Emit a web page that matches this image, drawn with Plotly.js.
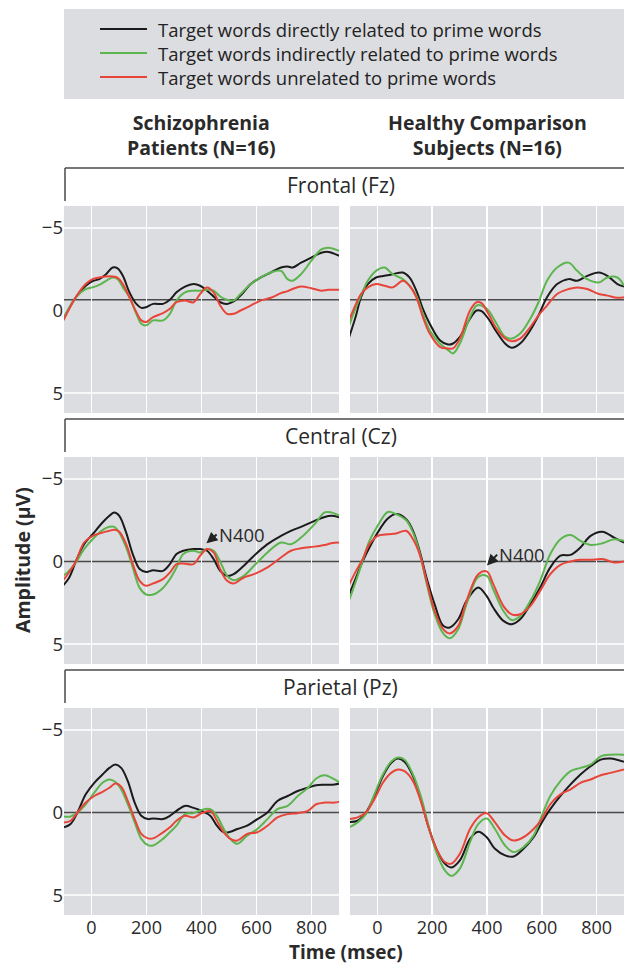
<!DOCTYPE html>
<html><head><meta charset="utf-8">
<script src="https://cdn.plot.ly/plotly-3.0.1.min.js"></script>
<style>html,body{margin:0;padding:0;background:#fff}#chart{width:624px;height:964px}</style>
</head><body><div id="chart"></div>
<script>
// ---------- data (msec, microvolts) ----------
const seriesNames = ["Target words directly related to prime words","Target words indirectly related to prime words","Target words unrelated to prime words"];
const xTicks = [0,200,400,600,800];
const yTicks = [-5,0,5];
const rowTitles = ["Frontal (Fz)","Central (Cz)","Parietal (Pz)"];
const colTitles = ["<b>Schizophrenia<br>Patients (N=16)</b>","<b>Healthy Comparison<br>Subjects (N=16)</b>"];

const tFzL = [-102,-57,-21,4,28,53,77,95,114,138,163,181,199,224,260,285,309,340,371,395,420,444,468,493,517,542,579,615,652,689,713,731,762,799,836,861,903];
const fzL_direct = [0.5,-0.8,-1.5,-1.78,-1.9,-2.2,-2.6,-2.55,-2.1,-1.1,-0.4,-0.16,-0.2,-0.4,-0.4,-0.65,-1.1,-1.45,-1.6,-1.5,-1.2,-0.85,-0.5,-0.4,-0.55,-0.9,-1.6,-2.0,-2.3,-2.6,-2.67,-2.6,-2.9,-3.2,-3.5,-3.55,-3.3];
const fzL_indirect = [0.5,-0.8,-1.3,-1.4,-1.55,-1.8,-2.0,-1.9,-1.4,-0.8,0.2,0.8,0.9,0.6,0.6,0.2,-0.6,-1.1,-1.2,-1.2,-1.25,-1.2,-0.85,-0.65,-0.6,-1.0,-1.6,-2.0,-2.3,-2.4,-1.9,-1.8,-2.2,-3.0,-3.7,-3.8,-3.6];
const fzL_unrel = [0.6,-0.8,-1.6,-1.9,-2.0,-2.06,-2.06,-1.98,-1.6,-0.8,0.1,0.6,0.7,0.4,0.16,-0.1,-0.5,-0.6,-0.5,-1.0,-1.4,-1.1,-0.3,0.2,0.2,0,-0.3,-0.6,-0.77,-1.05,-1.17,-1.3,-1.45,-1.35,-1.2,-1.25,-1.25];

const tFzR = [-103,-78,-60,-35,-5,26,56,93,117,142,166,191,228,258,276,301,338,362,380,405,435,466,490,521,558,588,619,656,698,729,766,808,839,876,900];
const fzR_direct = [1.6,0.3,-0.8,-1.6,-2.0,-2.1,-2.2,-2.3,-2.0,-1.2,-0.1,0.8,1.8,2.06,2.0,1.6,0.5,0,0.04,0.5,1.3,2.0,2.26,2.0,1.2,0.3,-0.8,-1.6,-1.9,-1.8,-2.1,-2.3,-2.1,-1.6,-1.45];
const fzR_indirect = [0.9,-0.2,-0.9,-1.8,-2.4,-2.6,-2.2,-1.9,-1.5,-0.9,0.2,1.2,2.0,2.4,2.6,2.0,0.4,-0.3,-0.3,0,0.8,1.6,1.7,1.4,0.5,-0.5,-1.8,-2.6,-2.9,-2.4,-1.9,-1.7,-2.0,-2.0,-1.5];
const fzR_unrel = [0.57,-0.4,-1.0,-1.4,-1.6,-1.5,-1.4,-1.8,-1.5,-0.8,0.4,1.4,2.2,2.3,2.3,1.7,0,-0.5,-0.45,0.2,1.1,1.7,1.86,1.7,1.0,0.3,-0.3,-1.0,-1.3,-1.4,-1.3,-1.0,-0.9,-0.77,-0.8];

const tCzL = [-106,-82,-57,-27,4,40,65,83,101,126,150,175,199,224,260,285,309,334,371,395,420,444,468,493,517,554,591,640,689,725,762,811,848,872,903];
const czL_direct = [1.5,1.0,0,-1.05,-1.65,-2.36,-2.77,-2.97,-2.77,-1.75,-0.45,0.46,0.63,0.53,0.57,0.16,-0.45,-0.65,-0.75,-0.75,-0.65,-0.15,0.57,0.87,0.77,0.26,-0.35,-1.05,-1.55,-1.86,-2.1,-2.46,-2.7,-2.77,-2.67];
const czL_indirect = [0.9,0.57,0.06,-0.75,-1.35,-1.9,-2.1,-2.1,-1.75,-0.85,0.36,1.6,2.0,2.0,1.6,1.07,0.36,-0.45,-0.65,-0.55,-0.75,-0.65,0,0.87,1.13,0.87,0.26,-0.55,-1.15,-1.05,-1.45,-2.26,-2.97,-2.97,-2.77];
const czL_unrel = [1.2,0.67,0,-1.15,-1.55,-1.75,-1.86,-1.92,-1.8,-1.05,0.16,1.17,1.47,1.33,1.07,0.67,0.16,0.12,0.16,-0.35,-0.75,-0.55,0.47,1.17,1.33,0.97,0.77,0.36,-0.24,-0.65,-0.8,-0.9,-1.0,-1.1,-1.15];

const tCzR = [-103,-78,-54,-29,1,38,68,105,130,154,179,209,240,264,295,325,368,399,423,460,490,521,558,594,631,668,705,741,778,821,864,900];
const czR_direct = [2.0,0.97,0,-0.85,-1.75,-2.6,-2.87,-2.56,-1.86,-0.65,0.97,2.6,3.9,4.0,3.5,2.4,1.58,2.1,2.8,3.6,3.8,3.5,2.6,1.58,0.36,-0.35,-0.4,-0.85,-1.55,-1.8,-1.45,-1.15];
const czR_indirect = [2.35,1.17,-0.04,-1.25,-2.16,-3.0,-2.87,-2.5,-1.75,-0.55,1.27,3.2,4.36,4.65,4.1,2.6,0.93,0.87,1.7,3.0,3.55,3.3,2.4,1.17,-0.45,-1.35,-1.6,-1.25,-1.0,-1.1,-1.35,-1.25];
const czR_unrel = [1.4,0.57,-0.14,-1.05,-1.55,-1.65,-1.7,-1.86,-1.35,-0.45,1.17,3.0,4.1,4.36,3.9,2.4,0.77,0.6,1.37,2.7,3.2,3.2,2.7,1.78,0.77,0.2,0,-0.1,-0.1,-0.15,0.06,0];

const tPzL = [-100,-76,-51,-21,10,40,65,87,108,132,157,181,205,224,260,285,309,340,371,401,432,456,481,505,530,566,603,640,676,713,750,787,817,848,884,903];
const pzL_direct = [0.9,0.7,0,-1.1,-1.8,-2.3,-2.7,-2.9,-2.7,-1.9,-0.6,0.2,0.4,0.36,0.4,0.2,-0.1,-0.4,-0.28,-0.1,0.2,0.8,1.2,1.17,1.0,0.8,0.4,0,-0.7,-1.0,-1.3,-1.5,-1.65,-1.68,-1.7,-1.76];
const pzL_indirect = [0.24,0.24,0,-0.5,-1.2,-1.8,-2.0,-1.85,-1.4,-0.5,0.6,1.6,1.98,2.0,1.6,1.2,0.8,0.1,0.04,-0.16,-0.2,0.2,1.0,1.6,1.9,1.4,1.0,0.4,-0.2,-0.4,-1.0,-1.5,-2.06,-2.26,-2.0,-1.8];
const pzL_unrel = [0.6,0.5,0,-0.6,-1.0,-1.25,-1.5,-1.75,-1.57,-0.7,0.4,1.3,1.57,1.57,1.2,0.9,0.5,0.2,0.3,0.04,-0.1,0.5,1.2,1.6,1.7,1.3,1.2,0.8,0.3,0.1,0.04,-0.1,-0.5,-0.6,-0.6,-0.67];

const tPzR = [-103,-72,-42,-11,20,50,75,99,130,160,185,215,246,270,301,338,368,399,429,466,497,533,570,600,631,668,705,741,778,815,851,900];
const pzR_direct = [0.57,0.5,0,-1.0,-2.2,-3.0,-3.27,-3.07,-2.2,-0.7,0.8,2.2,3.1,3.33,2.9,1.6,1.17,1.5,2.2,2.6,2.67,2.2,1.5,0.6,-0.2,-1.0,-1.7,-2.3,-2.8,-3.2,-3.27,-3.07];
const pzR_indirect = [0.9,0.6,0.1,-1.1,-2.3,-3.07,-3.33,-3.2,-2.3,-0.9,0.7,2.4,3.5,3.84,3.4,1.8,0.7,0.36,1.0,2.0,2.4,2.1,1.4,0.2,-1.0,-1.9,-2.5,-2.7,-2.9,-3.4,-3.5,-3.5];
const pzR_unrel = [0.4,0.3,0,-0.8,-1.8,-2.4,-2.6,-2.5,-1.9,-0.6,0.8,2.2,3.0,3.1,2.5,1.0,0.3,0.04,0.6,1.4,1.7,1.5,1.0,0.4,-0.5,-1.1,-1.4,-1.8,-2.0,-2.26,-2.4,-2.6];

const baselines = [-0.65, 0, 0];          // level of the dark reference line per row
const n400Left = {tip:[418,-1.1], tail:[455,-1.64]};
const n400Right = {tip:[400,0.24], tail:[437,-0.42]};

// ---------- figure ----------
const W = 624, H = 964;
const FONT = "Open Sans, Lato, sans-serif";
const TXT = "#2a2a2a";
const colors = ["#1b1b1b","#5cb54f","#e8453a"];
const panels = [
  [tFzL,[fzL_direct,fzL_indirect,fzL_unrel]],
  [tFzR,[fzR_direct,fzR_indirect,fzR_unrel]],
  [tCzL,[czL_direct,czL_indirect,czL_unrel]],
  [tCzR,[czR_direct,czR_indirect,czR_unrel]],
  [tPzL,[pzL_direct,pzL_indirect,pzL_unrel]],
  [tPzR,[pzR_direct,pzR_indirect,pzR_unrel]]
];
const px = v => v / W, py = v => 1 - v / H;
const colDom = [[px(64), px(339)], [px(350), 1]];
const rowPix = [[206,413],[457,664],[708,915]];
const rowDom = rowPix.map(r => [py(r[1]), py(r[0])]);

const traces = [];
panels.forEach((p, i) => {
  const n = i + 1;
  p[1].forEach((vals, s) => {
    traces.push({
      x: p[0], y: vals, type: "scatter", mode: "lines",
      name: seriesNames[s], showlegend: false,
      line: {color: colors[s], width: 2, shape: "spline", smoothing: 1},
      xaxis: "x" + (n === 1 ? "" : n), yaxis: "y" + (n === 1 ? "" : n),
      hoverinfo: "skip"
    });
  });
});

const layout = {
  width: W, height: H,
  margin: {l: 0, r: 0, t: 0, b: 0},
  paper_bgcolor: "#ffffff", plot_bgcolor: "#dcdde0",
  font: {family: FONT, size: 18, color: TXT},
  showlegend: false,
  shapes: [], annotations: []
};

for (let i = 0; i < 6; i++) {
  const n = i + 1, r = Math.floor(i / 2), c = i % 2;
  const xa = "xaxis" + (n === 1 ? "" : n), ya = "yaxis" + (n === 1 ? "" : n);
  const xid = "x" + (n === 1 ? "" : n), yid = "y" + (n === 1 ? "" : n);
  layout[xa] = {domain: colDom[c], anchor: yid, range: [-100, 900],
    tickvals: xTicks, showticklabels: r === 2, showgrid: true,
    gridcolor: "#ffffff", gridwidth: 1.5, zeroline: false, showline: false, ticks: "",
    tickfont: {size: 18, color: TXT}, fixedrange: true};
  layout[ya] = {domain: rowDom[r], anchor: xid, range: [6.21, -6.33],
    tickvals: yTicks, showticklabels: c === 0, showgrid: false, zeroline: false,
    showline: false, ticks: "", tickfont: {size: 18.5, color: TXT}, fixedrange: true};
  // white grid lines at -5 and 5
  yTicks.filter(v => v !== 0).forEach(v => layout.shapes.push({type: "line", layer: "below",
    xref: xid + " domain", yref: yid, x0: 0, x1: 1, y0: v, y1: v,
    line: {color: "#ffffff", width: 1.5}}));
  // dark reference line
  layout.shapes.push({type: "line", layer: "below", xref: xid + " domain", yref: yid,
    x0: 0, x1: 1, y0: baselines[r], y1: baselines[r], line: {color: "#4a4a4a", width: 1.5}});
}

// legend box with keys
layout.shapes.push({type: "rect", layer: "below", xref: "paper", yref: "paper",
  x0: px(64), x1: 1, y0: py(99), y1: py(9), fillcolor: "#dcdde0", line: {width: 0}});
const legendRows = [29, 53, 77];
seriesNames.forEach((name, s) => {
  layout.shapes.push({type: "line", xref: "paper", yref: "paper",
    x0: px(100), x1: px(147), y0: py(legendRows[s]), y1: py(legendRows[s]),
    line: {color: colors[s], width: 2}});
});
layout.annotations.push({xref: "paper", yref: "paper", x: px(156), y: py(53),
  text: seriesNames.join("<br>"), align: "left", showarrow: false,
  xanchor: "left", yanchor: "middle", font: {size: 18.5, color: "#222"}});

// strip headers
const stripTop = [168, 419, 670];
stripTop.forEach((t, r) => {
  layout.shapes.push({type: "line", xref: "paper", yref: "paper", x0: px(65), x1: 1,
    y0: py(t), y1: py(t), line: {color: "#4a4a4a", width: 1.5}});
  layout.shapes.push({type: "line", xref: "paper", yref: "paper", x0: px(65), x1: px(65),
    y0: py(t), y1: py(t + 33), line: {color: "#4a4a4a", width: 1.5}});
  layout.annotations.push({xref: "paper", yref: "paper", x: px(341), y: py(t + 17),
    text: rowTitles[r], showarrow: false, xanchor: "center", yanchor: "middle",
    font: {size: 21, color: TXT}});
});

// column titles
colTitles.forEach((t, c) => layout.annotations.push({xref: "paper", yref: "paper",
  x: (colDom[c][0] + colDom[c][1]) / 2, y: py(135), text: t, showarrow: false,
  xanchor: "center", yanchor: "middle", font: {size: 19.5, color: TXT}}));

// axis titles
layout.annotations.push({xref: "paper", yref: "paper", x: px(346), y: py(952),
  text: "<b>Time (msec)</b>", showarrow: false, xanchor: "center", yanchor: "middle",
  font: {size: 19, color: TXT}});
layout.annotations.push({xref: "paper", yref: "paper", x: px(22), y: py(560),
  text: "<b>Amplitude (μV)</b>", showarrow: false, textangle: -90, xanchor: "center",
  yanchor: "middle", font: {size: 19.5, color: TXT}});

// N400 arrows
[[n400Left, "x3", "y3"], [n400Right, "x4", "y4"]].forEach(([a, xr, yr]) => {
  layout.annotations.push({xref: xr, yref: yr, axref: xr, ayref: yr,
    x: a.tip[0], y: a.tip[1], ax: a.tail[0], ay: a.tail[1], text: "N400",
    showarrow: true, arrowhead: 2, arrowsize: 1.1, arrowwidth: 2, arrowcolor: "#222",
    xanchor: "left", yanchor: "middle", font: {size: 18.5, color: TXT}});
});

Plotly.newPlot("chart", traces, layout, {staticPlot: true, displayModeBar: false});
</script></body></html>
